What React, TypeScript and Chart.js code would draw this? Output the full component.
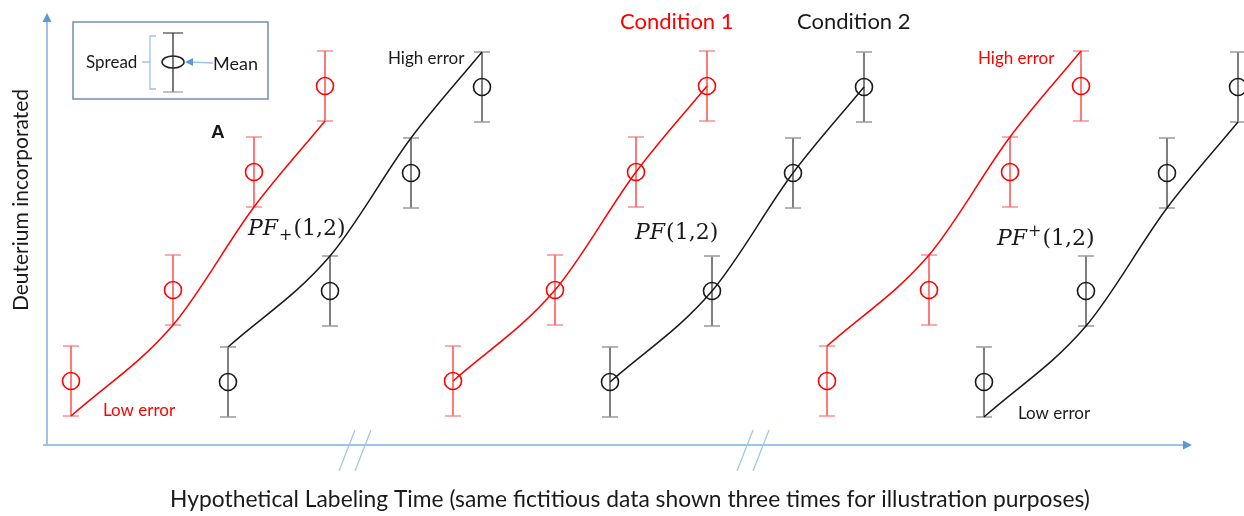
import React, { useEffect, useRef } from "react";
import { Chart, registerables } from "chart.js";

Chart.register(...registerables);

// Sampling times within one panel (arbitrary time units)
const timePoints = [2.4, 12.6, 20.7, 27.8];
// The same data are repeated in three panels along the time axis
const panelStarts = [0, 38.2, 75.6];
// Condition 2 is drawn shifted to the right of condition 1
const condition2Delay = 15.7;

// Mean deuterium incorporated at each time point
const condition1Mean = [6.4, 15.5, 27.3, 35.9];
const condition2Mean = [6.3, 15.4, 27.2, 35.8];
// Half-width of the spread around each mean
const spread = [3.5, 3.5, 3.5, 3.5];

// Which edge of the spread each curve follows, per panel: [condition 1, condition 2]
const panelCurves: [string, string][] = [
  ["low", "high"],
  ["mean", "mean"],
  ["high", "low"],
];

const conditionNames = ["Condition 1", "Condition 2"];
const axisTitleX =
  "Hypothetical Labeling Time (same fictitious data shown three times for illustration purposes)";
const axisTitleY = "Deuterium incorporated";

const RED = "#ff0000";
const DARK = "#1a1a1a";
const AXIS = "#9dc3e6";
const AXIS_HEAD = "#5b9bd5";
const SANS = "Lato, 'Open Sans', sans-serif";
const MATH = "'DejaVu Serif', 'Liberation Serif', serif";

const conditionStyles = [
  { line: RED, point: RED, stem: "rgba(255,0,0,0.8)", cap: "rgba(240,110,110,0.75)" },
  { line: DARK, point: DARK, stem: "#3a3a3a", cap: "#9a9a9a" },
];

export default function App() {
  const ref = useRef<HTMLCanvasElement>(null);

  useEffect(() => {
    document.body.style.margin = "0";
    const canvas = ref.current!;
    const datasets: any[] = [];

    panelStarts.forEach((start, p) => {
      [condition1Mean, condition2Mean].forEach((means, c) => {
        const xs = timePoints.map((t) => start + t + (c === 1 ? condition2Delay : 0));
        const mode = panelCurves[p][c];
        const sign = mode === "low" ? -1 : mode === "high" ? 1 : 0;
        const st = conditionStyles[c];
        datasets.push({
          label: `${conditionNames[c]} curve ${p + 1}`,
          data: xs.map((x, i) => ({ x, y: means[i] + sign * spread[i] })),
          borderColor: st.line,
          borderWidth: 1.5,
          pointRadius: 0,
          cubicInterpolationMode: "monotone",
          fill: false,
          order: 2,
        });
        datasets.push({
          label: `${conditionNames[c]} mean ${p + 1}`,
          data: xs.map((x, i) => ({ x, y: means[i] })),
          showLine: false,
          pointStyle: "circle",
          pointRadius: 8.5,
          pointBorderWidth: 1.6,
          pointBorderColor: st.point,
          pointBackgroundColor: "rgba(0,0,0,0)",
          errorSpread: spread,
          errorStyle: st,
          order: 1,
        });
      });
    });

    const decorations = {
      id: "decorations",
      beforeDatasetsDraw(chart: any) {
        const ctx = chart.ctx;
        const xs = chart.scales.x;
        const ys = chart.scales.y;
        const x0 = xs.getPixelForValue(0);
        const y0 = ys.getPixelForValue(0);
        ctx.save();
        // vertical axis with arrow
        const yTop = ys.getPixelForValue(43.2);
        ctx.strokeStyle = AXIS;
        ctx.lineWidth = 2;
        ctx.beginPath();
        ctx.moveTo(x0, y0);
        ctx.lineTo(x0, yTop + 7);
        ctx.stroke();
        ctx.fillStyle = AXIS_HEAD;
        ctx.beginPath();
        ctx.moveTo(x0, yTop);
        ctx.lineTo(x0 - 4.5, yTop + 9);
        ctx.lineTo(x0 + 4.5, yTop + 9);
        ctx.closePath();
        ctx.fill();
        // horizontal axis with arrow
        const xEnd = xs.getPixelForValue(114.5);
        ctx.strokeStyle = AXIS;
        ctx.beginPath();
        ctx.moveTo(x0 - 4, y0);
        ctx.lineTo(xEnd - 7, y0);
        ctx.stroke();
        ctx.fillStyle = AXIS_HEAD;
        ctx.beginPath();
        ctx.moveTo(xEnd, y0);
        ctx.lineTo(xEnd - 9, y0 - 4.5);
        ctx.lineTo(xEnd - 9, y0 + 4.5);
        ctx.closePath();
        ctx.fill();
        // axis breaks between panels
        ctx.strokeStyle = AXIS;
        ctx.lineWidth = 1.2;
        [30.8, 70.6].forEach((b) => {
          const bx = xs.getPixelForValue(b);
          [-8, 8].forEach((d) => {
            ctx.beginPath();
            ctx.moveTo(bx + d + 8, y0 - 15);
            ctx.lineTo(bx + d - 8, y0 + 26);
            ctx.stroke();
          });
        });

        // error bars
        chart.data.datasets.forEach((ds: any) => {
          if (!ds.errorSpread) return;
          const st = ds.errorStyle;
          ds.data.forEach((pt: any, i: number) => {
            const px = xs.getPixelForValue(pt.x);
            const top = ys.getPixelForValue(pt.y + ds.errorSpread[i]);
            const bot = ys.getPixelForValue(pt.y - ds.errorSpread[i]);
            ctx.strokeStyle = st.stem;
            ctx.lineWidth = 1.3;
            ctx.beginPath();
            ctx.moveTo(px, top);
            ctx.lineTo(px, bot);
            ctx.stroke();
            ctx.strokeStyle = st.cap;
            ctx.lineWidth = 1.5;
            [top, bot].forEach((yy) => {
              ctx.beginPath();
              ctx.moveTo(px - 8, yy);
              ctx.lineTo(px + 8, yy);
              ctx.stroke();
            });
          });
        });
        ctx.restore();
      },
      afterDraw(chart: any) {
        const ctx = chart.ctx;
        const xs = chart.scales.x;
        const ys = chart.scales.y;
        const P = (x: number, y: number) => [xs.getPixelForValue(x), ys.getPixelForValue(y)];
        ctx.save();
        ctx.textBaseline = "alphabetic";
        ctx.textAlign = "left";

        const text = (s: string, x: number, y: number, font: string, color: string) => {
          const [px, py] = P(x, y);
          ctx.font = font;
          ctx.fillStyle = color;
          ctx.fillText(s, px, py);
        };

        // condition headers
        text(conditionNames[0], 57.3, 41.6, `22px ${SANS}`, RED);
        text(conditionNames[1], 75.0, 41.6, `22px ${SANS}`, DARK);

        // error-edge labels
        text("Low error", 5.6, 2.9, `17px ${SANS}`, RED);
        text("High error", 34.1, 38.1, `17px ${SANS}`, DARK);
        text("High error", 93.1, 38.1, `17px ${SANS}`, RED);
        text("Low error", 97.1, 2.6, `17px ${SANS}`, DARK);

        // panel letter
        text("A", 16.4, 30.7, `bold 19px 'Liberation Sans', Arial, sans-serif`, DARK);

        // panel formulas
        const formula = (x: number, y: number, script: string) => {
          let [px, py] = P(x, y);
          ctx.fillStyle = DARK;
          ctx.font = `italic 22px ${MATH}`;
          ctx.fillText("PF", px, py);
          px += ctx.measureText("PF").width + 1;
          if (script) {
            ctx.font = `16px ${MATH}`;
            const dy = script === "sub" ? 5 : -9;
            ctx.fillText("+", px, py + dy);
            px += ctx.measureText("+").width + 1;
          }
          ctx.font = `22px ${MATH}`;
          ctx.fillText("(1,2)", px, py);
        };
        formula(20.1, 21.0, "sub");
        formula(58.8, 20.6, "");
        formula(95.0, 20.0, "sup");

        // axis titles
        ctx.font = `22.8px ${SANS}`;
        ctx.fillStyle = DARK;
        ctx.textAlign = "center";
        ctx.fillText(axisTitleX, 630, 507);
        ctx.translate(28, 200);
        ctx.rotate(-Math.PI / 2);
        ctx.font = `21px ${SANS}`;
        ctx.fillText(axisTitleY, 0, 0);
        ctx.setTransform(1, 0, 0, 1, 0, 0);

        // key explaining the symbols
        ctx.strokeStyle = "#6f8fb3";
        ctx.lineWidth = 1.5;
        ctx.strokeRect(73, 22, 195, 77);
        ctx.textAlign = "left";
        ctx.font = `17px ${SANS}`;
        ctx.fillStyle = DARK;
        ctx.fillText("Spread", 86, 68);
        ctx.font = `18px ${SANS}`;
        ctx.fillText("Mean", 213, 70);
        // bracket
        ctx.strokeStyle = "#9dc3e6";
        ctx.lineWidth = 1.3;
        ctx.beginPath();
        ctx.moveTo(156, 36);
        ctx.lineTo(150, 36);
        ctx.lineTo(150, 89);
        ctx.lineTo(156, 89);
        ctx.moveTo(142, 62);
        ctx.lineTo(150, 62);
        ctx.stroke();
        // sample error bar
        ctx.strokeStyle = "#222";
        ctx.lineWidth = 1.2;
        ctx.beginPath();
        ctx.moveTo(173, 33);
        ctx.lineTo(173, 92);
        ctx.moveTo(163, 33);
        ctx.lineTo(183, 33);
        ctx.stroke();
        ctx.strokeStyle = "#999";
        ctx.beginPath();
        ctx.moveTo(163, 92);
        ctx.lineTo(183, 92);
        ctx.stroke();
        ctx.strokeStyle = "#222";
        ctx.lineWidth = 1.5;
        ctx.beginPath();
        ctx.ellipse(173, 62, 11, 6, 0, 0, Math.PI * 2);
        ctx.stroke();
        // arrow to the mean
        ctx.strokeStyle = "#9dc3e6";
        ctx.lineWidth = 1.3;
        ctx.beginPath();
        ctx.moveTo(213, 63);
        ctx.lineTo(190, 62);
        ctx.stroke();
        ctx.fillStyle = AXIS_HEAD;
        ctx.beginPath();
        ctx.moveTo(185, 62);
        ctx.lineTo(193, 58);
        ctx.lineTo(193, 66);
        ctx.closePath();
        ctx.fill();
        ctx.restore();
      },
    };

    const chart = new Chart(canvas, {
      type: "line",
      data: { datasets },
      options: {
        animation: false,
        responsive: false,
        layout: { padding: 0, autoPadding: false },
        plugins: { legend: { display: false }, tooltip: { enabled: false }, title: { display: false } },
        scales: {
          x: { type: "linear", min: -4.7, max: 119.7, display: false },
          y: { type: "linear", min: -7.1, max: 44.5, display: false },
        },
      },
      plugins: [decorations],
    } as any);
    return () => chart.destroy();
  }, []);

  return (
    <div style={{ width: 1244, height: 516, background: "#fff" }}>
      <canvas ref={ref} width={1244} height={516} />
    </div>
  );
}
